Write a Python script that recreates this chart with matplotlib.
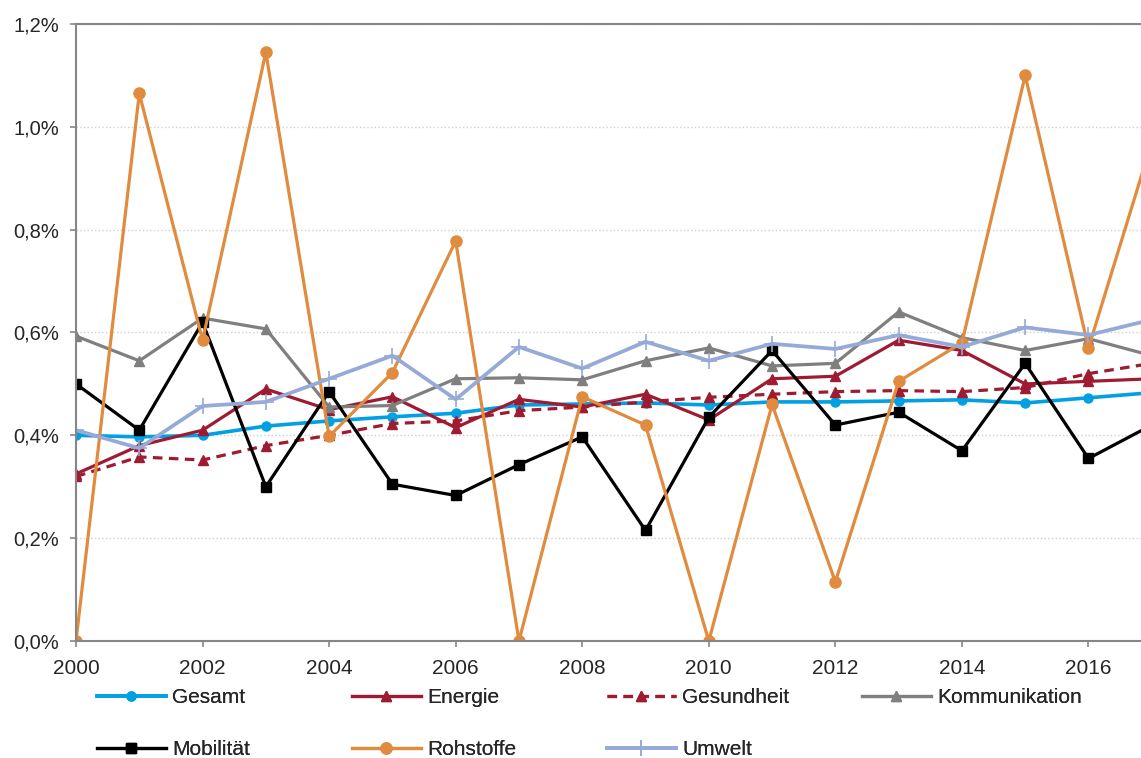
import matplotlib
matplotlib.use("Agg")
import matplotlib.pyplot as plt
from matplotlib.ticker import FuncFormatter

plt.rcParams['font.family'] = ['Liberation Sans', 'DejaVu Sans']

# Daten
jahre = list(range(2000, 2018))
gesamt = [0.40, 0.397, 0.40, 0.418, 0.428, 0.436, 0.443, 0.459, 0.461, 0.463,
          0.459, 0.465, 0.465, 0.467, 0.469, 0.463, 0.473, 0.483]
energie = [0.325, 0.38, 0.41, 0.49, 0.45, 0.475, 0.415, 0.47, 0.455, 0.48,
           0.43, 0.51, 0.515, 0.585, 0.565, 0.50, 0.505, 0.51]
gesundheit = [0.32, 0.358, 0.352, 0.38, 0.40, 0.423, 0.428, 0.448, 0.455, 0.465,
              0.474, 0.48, 0.485, 0.487, 0.485, 0.493, 0.52, 0.54]
kommunikation = [0.593, 0.545, 0.628, 0.607, 0.455, 0.458, 0.51, 0.512, 0.508, 0.545,
                 0.57, 0.535, 0.54, 0.64, 0.59, 0.565, 0.588, 0.555]
mobilitaet = [0.50, 0.41, 0.62, 0.30, 0.485, 0.305, 0.283, 0.343, 0.397, 0.215,
              0.435, 0.565, 0.42, 0.445, 0.37, 0.54, 0.355, 0.42]
rohstoffe = [0.0, 1.065, 0.585, 1.145, 0.398, 0.522, 0.778, 0.0, 0.475, 0.42,
             0.0, 0.46, 0.115, 0.505, 0.58, 1.10, 0.57, 0.97]
umwelt = [0.41, 0.375, 0.457, 0.465, 0.51, 0.555, 0.47, 0.572, 0.53, 0.582,
          0.545, 0.578, 0.568, 0.595, 0.572, 0.61, 0.595, 0.625]

fig = plt.figure(figsize=(11.41, 7.58), dpi=100)
ax = fig.add_axes([76 / 1141, 117 / 758, 1 - 76 / 1141, (641 - 24) / 758])

lw = 2.3
h_ges, = ax.plot(jahre, gesamt, color='#00A0E3', lw=lw + 0.3, marker='o', ms=6.5, label='Gesamt')
h_ene, = ax.plot(jahre, energie, color='#9E1B32', lw=lw, marker='^', ms=7.5, label='Energie')
h_gsd, = ax.plot(jahre, gesundheit, color='#9E1B32', lw=lw, ls=(0, (3, 2)), marker='^', ms=7.5,
                 label='Gesundheit')
h_kom, = ax.plot(jahre, kommunikation, color='#7F7F7F', lw=lw, marker='^', ms=7.5, label='Kommunikation')
h_mob, = ax.plot(jahre, mobilitaet, color='black', lw=lw, marker='s', ms=7, label='Mobilität')
h_roh, = ax.plot(jahre, rohstoffe, color='#E08B3E', lw=lw, marker='o', ms=8, label='Rohstoffe')
h_umw, = ax.plot(jahre, umwelt, color='#95AAD6', lw=lw + 0.4, marker='+', ms=12, mew=1.2, label='Umwelt')

ax.set_xlim(2000, 2016.83)
ax.set_ylim(0, 1.2)
ax.set_xticks(range(2000, 2017, 2))
ax.set_yticks([0, 0.2, 0.4, 0.6, 0.8, 1.0, 1.2])
ax.yaxis.set_major_formatter(FuncFormatter(lambda v, p: f"{v:.1f}%".replace('.', ',')))
ax.tick_params(axis='y', length=4.3, color='#868686', width=1.2, labelsize=14.5, pad=8,
               labelcolor='#262626')
ax.tick_params(axis='x', length=4.3, color='#868686', width=1.2, labelsize=15, pad=8.5,
               labelcolor='#262626')
ax.grid(axis='y', color='#D0D0D0', ls=':', lw=1)
ax.set_axisbelow(True)
ax.spines['right'].set_visible(False)
for s in ['left', 'bottom', 'top']:
    ax.spines[s].set_color('#868686')
    ax.spines[s].set_linewidth(1.5)

# Legende in 4 Spalten
spalten = [[h_ges, h_mob], [h_ene, h_roh], [h_gsd, h_umw], [h_kom]]
xs = [97, 352, 607, 862]
for x0, hs in zip(xs, spalten):
    leg = fig.legend(handles=hs, loc='upper left', bbox_to_anchor=(x0 / 1141, 1 - 688 / 758),
                     frameon=False, fontsize=15, handlelength=3.3, handletextpad=0.3,
                     labelspacing=1.58, borderaxespad=0, borderpad=0, labelcolor='#262626')
    fig.add_artist(leg)

fig.savefig('out.png', dpi=100)
